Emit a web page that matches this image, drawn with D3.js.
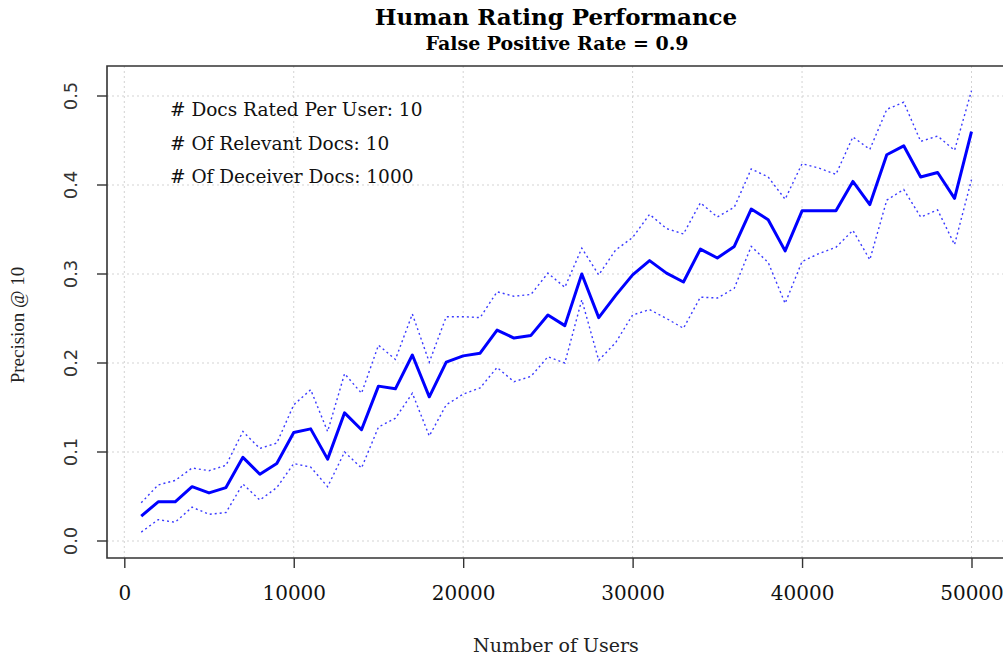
<!DOCTYPE html>
<html>
<head>
<meta charset="utf-8">
<script src="https://cdn.jsdelivr.net/npm/d3@7"></script>
<style>
  body { margin: 0; background: #fff; }
  svg { display: block; }
</style>
</head>
<body>
<div id="chart"></div>
<script>
// number of users on the x axis
const users = [1000, 2000, 3000, 4000, 5000, 6000, 7000, 8000, 9000, 10000,
  11000, 12000, 13000, 14000, 15000, 16000, 17000, 18000, 19000, 20000,
  21000, 22000, 23000, 24000, 25000, 26000, 27000, 28000, 29000, 30000,
  31000, 32000, 33000, 34000, 35000, 36000, 37000, 38000, 39000, 40000,
  41000, 42000, 43000, 44000, 45000, 46000, 47000, 48000, 49000, 50000];

// precision @ 10 (mean) and the dotted upper / lower bands
const precision = [0.028, 0.044, 0.044, 0.061, 0.054, 0.060, 0.094, 0.075, 0.087, 0.122,
  0.126, 0.092, 0.144, 0.125, 0.174, 0.171, 0.209, 0.162, 0.201, 0.208,
  0.211, 0.237, 0.228, 0.231, 0.254, 0.242, 0.300, 0.251, 0.276, 0.299,
  0.315, 0.301, 0.291, 0.328, 0.318, 0.331, 0.373, 0.361, 0.326, 0.371,
  0.371, 0.371, 0.404, 0.378, 0.434, 0.444, 0.409, 0.414, 0.385, 0.460];

const upper = [0.043, 0.063, 0.068, 0.082, 0.079, 0.085, 0.123, 0.104, 0.110, 0.153,
  0.170, 0.123, 0.188, 0.166, 0.220, 0.204, 0.255, 0.201, 0.252, 0.252,
  0.251, 0.280, 0.275, 0.277, 0.301, 0.285, 0.329, 0.299, 0.327, 0.341,
  0.367, 0.351, 0.345, 0.380, 0.364, 0.375, 0.418, 0.409, 0.384, 0.424,
  0.419, 0.412, 0.454, 0.440, 0.485, 0.493, 0.449, 0.455, 0.439, 0.506];

const lower = [0.010, 0.024, 0.021, 0.038, 0.030, 0.032, 0.064, 0.046, 0.060, 0.087,
  0.083, 0.061, 0.100, 0.082, 0.128, 0.138, 0.166, 0.118, 0.153, 0.165,
  0.172, 0.195, 0.179, 0.185, 0.207, 0.200, 0.271, 0.203, 0.223, 0.254,
  0.260, 0.250, 0.239, 0.274, 0.273, 0.284, 0.331, 0.313, 0.267, 0.314,
  0.323, 0.330, 0.349, 0.316, 0.383, 0.395, 0.364, 0.372, 0.333, 0.406];

const xTicks = [0, 10000, 20000, 30000, 40000, 50000];
const yTicks = [0.0, 0.1, 0.2, 0.3, 0.4, 0.5];
const notes = ['# Docs Rated Per User: 10', '# Of Relevant Docs: 10', '# Of Deceiver Docs: 1000'];

const W = 1003, H = 659;
const box = { left: 107, top: 66, right: 1012, bottom: 558 };
const serif = '"DejaVu Serif", serif';
const times = '"Liberation Serif", serif';
const sans = '"DejaVu Sans", sans-serif';

const x = d3.scaleLinear().domain([0, 50000]).range([124.3, 971.5]);
const y = d3.scaleLinear().domain([0, 0.5]).range([541, 96]);

const svg = d3.select('#chart').append('svg')
  .attr('width', W).attr('height', H);

// grid
svg.append('g').selectAll('line').data(xTicks).join('line')
  .attr('x1', d => x(d)).attr('x2', d => x(d))
  .attr('y1', box.top).attr('y2', box.bottom)
  .attr('stroke', '#d3d3d3').attr('stroke-dasharray', '2,3');
svg.append('g').selectAll('line').data(yTicks).join('line')
  .attr('x1', box.left).attr('x2', box.right)
  .attr('y1', d => y(d)).attr('y2', d => y(d))
  .attr('stroke', '#d3d3d3').attr('stroke-dasharray', '2,3');

// series
const line = vals => d3.line()
  .x((d, i) => x(users[i]))
  .y(d => y(d))(vals);

svg.append('path').attr('d', line(upper))
  .attr('fill', 'none').attr('stroke', '#3a3aff').attr('stroke-width', 1.4)
  .attr('stroke-dasharray', '2,3');
svg.append('path').attr('d', line(lower))
  .attr('fill', 'none').attr('stroke', '#3a3aff').attr('stroke-width', 1.4)
  .attr('stroke-dasharray', '2,3');
svg.append('path').attr('d', line(precision))
  .attr('fill', 'none').attr('stroke', '#0000ff').attr('stroke-width', 3)
  .attr('stroke-linejoin', 'round');

// box
svg.append('path')
  .attr('d', `M${box.right},${box.top}H${box.left}V${box.bottom}H${box.right}`)
  .attr('fill', 'none').attr('stroke', '#333').attr('stroke-width', 1.6);

// x axis
const xAxis = svg.append('g')
  .attr('transform', `translate(0,${box.bottom})`)
  .call(d3.axisBottom(x).tickValues(xTicks).tickSize(10).tickPadding(18).tickFormat(d3.format('d')));
xAxis.select('.domain').remove();
xAxis.selectAll('line').attr('stroke', '#333').attr('stroke-width', 1.4);
xAxis.selectAll('text').attr('font-family', serif).attr('font-size', 20).attr('fill', '#111');

// y axis
const yAxis = svg.append('g')
  .attr('transform', `translate(${box.left},0)`)
  .call(d3.axisLeft(y).tickValues(yTicks).tickSize(10).tickFormat(d3.format('.1f')));
yAxis.select('.domain').remove();
yAxis.selectAll('line').attr('stroke', '#333').attr('stroke-width', 1.4);
yAxis.selectAll('text')
  .attr('font-family', sans).attr('font-size', 18).attr('fill', '#333')
  .attr('x', null).attr('dy', null)
  .attr('text-anchor', 'middle')
  .attr('transform', d => `translate(-30,${y(d)}) rotate(-90)`)
  .attr('y', 0);
yAxis.selectAll('.tick').attr('transform', null);
yAxis.selectAll('.tick line').attr('y1', d => y(d)).attr('y2', d => y(d));

// titles
svg.append('text').attr('x', 556).attr('y', 25).attr('text-anchor', 'middle')
  .attr('font-family', serif).attr('font-weight', 'bold').attr('font-size', 23)
  .text('Human Rating Performance');
svg.append('text').attr('x', 557).attr('y', 50).attr('text-anchor', 'middle')
  .attr('font-family', serif).attr('font-weight', 'bold').attr('font-size', 19)
  .text('False Positive Rate = 0.9');
svg.append('text').attr('x', 556).attr('y', 652).attr('text-anchor', 'middle')
  .attr('font-family', serif).attr('font-size', 19).attr('fill', '#222')
  .text('Number of Users');
svg.append('text').attr('transform', 'translate(24,325) rotate(-90)').attr('text-anchor', 'middle')
  .attr('font-family', times).attr('font-size', 19).attr('fill', '#222')
  .text('Precision @ 10');

// notes
svg.append('g').selectAll('text').data(notes).join('text')
  .attr('x', 170).attr('y', (d, i) => 116 + i * 33.5)
  .attr('font-family', serif).attr('font-size', 18.5).attr('fill', '#111')
  .text(d => d);
</script>
</body>
</html>
